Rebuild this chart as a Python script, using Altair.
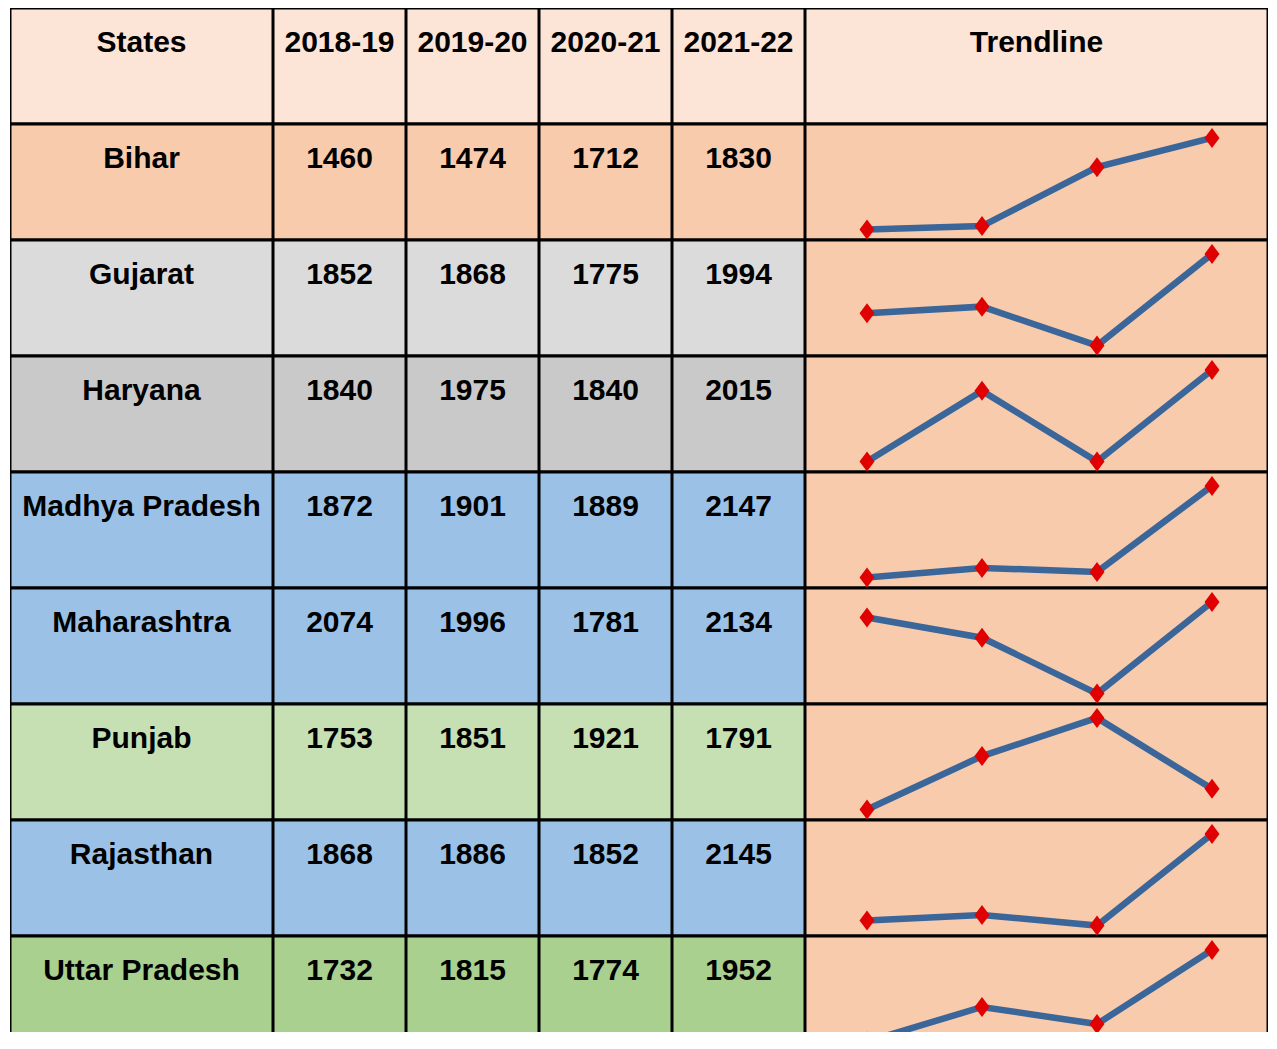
import altair as alt
import pandas as pd

# ---- data ----
states = ["Bihar", "Gujarat", "Haryana", "Madhya Pradesh", "Maharashtra",
          "Punjab", "Rajasthan", "Uttar Pradesh"]
years = ["2018-19", "2019-20", "2020-21", "2021-22"]
v2018_19 = [1460, 1852, 1840, 1872, 2074, 1753, 1868, 1732]
v2019_20 = [1474, 1868, 1975, 1901, 1996, 1851, 1886, 1815]
v2020_21 = [1712, 1775, 1840, 1889, 1781, 1921, 1852, 1774]
v2021_22 = [1830, 1994, 2015, 2147, 2134, 1791, 2145, 1952]
state_header = "States"
trend_header = "Trendline"

# ---- styles ----
FONT = "Liberation Sans, Arial, sans-serif"
HEADER_BG = "#FCE4D6"
ROW_BG = ["#F8CBAD", "#DBDBDB", "#C9C9C9", "#9BC2E6", "#9BC2E6",
          "#C6E0B4", "#9BC2E6", "#A9D08E"]
TREND_BG = "#F8CBAD"
LINE_COLOR = "#3B6699"
POINT_COLOR = "#E00000"
DIAMOND = "M0,-1L0.75,0L0,1L-0.75,0Z"
H = 1024               # visible plot height (last row is cut off, as in the source)
ROW_RANGE = [0, 1044]  # full extent of the 9 table rows
W_STATE = 263
W_YEAR = 133
W_TREND = 463
TREND_X_RANGE = [62, 407]
FS = 30
DY = 44

row_keys = ["Header"] + states
series = [v2018_19, v2019_20, v2020_21, v2021_22]


def yband(bp=None):
    kw = dict(axis=None, sort=row_keys,
              scale=alt.Scale(type="band", domain=row_keys, range=ROW_RANGE,
                              paddingInner=0, paddingOuter=0))
    if bp is not None:
        kw["bandPosition"] = bp
    return alt.Y("row:N", **kw)


def xband(col):
    return alt.X("col:N", axis=None,
                 scale=alt.Scale(type="band", domain=[col], paddingInner=0, paddingOuter=0))


def cell_layers(col, labels, colors):
    df = pd.DataFrame({"row": row_keys, "col": col, "label": labels})
    base = alt.Chart(df)
    rect = base.mark_rect(stroke="black", strokeWidth=3, clip=True).encode(
        x=xband(col), y=yband(),
        color=alt.Color("row:N", legend=None,
                        scale=alt.Scale(domain=row_keys, range=colors)))
    text = base.mark_text(font=FONT, fontSize=FS, fontWeight="bold",
                          baseline="alphabetic", align="center", dy=DY,
                          color="black", clip=True).encode(
        x=xband(col), y=yband(0), text="label:N")
    return rect, text


panels = []
r, t = cell_layers(state_header, [state_header] + states, [HEADER_BG] + ROW_BG)
panels.append((r + t).properties(width=W_STATE, height=H))
for yr, vals in zip(years, series):
    r, t = cell_layers(yr, [yr] + [str(v) for v in vals], [HEADER_BG] + ROW_BG)
    panels.append((r + t).properties(width=W_YEAR, height=H))

# trendline panel
r, t = cell_layers(trend_header, [trend_header] + [""] * len(states),
                   [HEADER_BG] + [TREND_BG] * len(states))
recs = []
for i, s in enumerate(states):
    vals = [ser[i] for ser in series]
    lo, hi = min(vals), max(vals)
    for yr, v in zip(years, vals):
        norm = (v - lo) / (hi - lo)
        recs.append({"state": s, "year": yr, "value": v,
                     "ypos": (i + 1) + 0.12 + (1 - norm) * 0.79})
tdf = pd.DataFrame(recs)
xs = alt.X("year:N", axis=None, sort=years,
           scale=alt.Scale(type="point", domain=years, range=TREND_X_RANGE, padding=0))
ys = alt.Y("ypos:Q", axis=None,
           scale=alt.Scale(domain=[0, len(row_keys)], range=ROW_RANGE, nice=False, zero=False))
line = alt.Chart(tdf).mark_line(color=LINE_COLOR, strokeWidth=6.5, clip=True).encode(
    x=xs, y=ys, detail="state:N")
pts = alt.Chart(tdf).mark_point(shape=DIAMOND, filled=True, color=POINT_COLOR,
                                size=400, opacity=1, clip=True).encode(
    x=xs, y=ys, detail="state:N", tooltip=["state:N", "year:N", "value:Q"])
trend = alt.layer(r, t, line, pts).resolve_scale(
    x="independent", y="independent").properties(width=W_TREND, height=H)
panels.append(trend)

chart = alt.hconcat(*panels, spacing=0, bounds="flush").resolve_scale(
    color="independent").configure_view(stroke=None).properties(
    padding={"left": 2, "top": 0, "right": 0, "bottom": 0})

chart.save("out.html", embed_options={"renderer": "svg", "actions": False})
